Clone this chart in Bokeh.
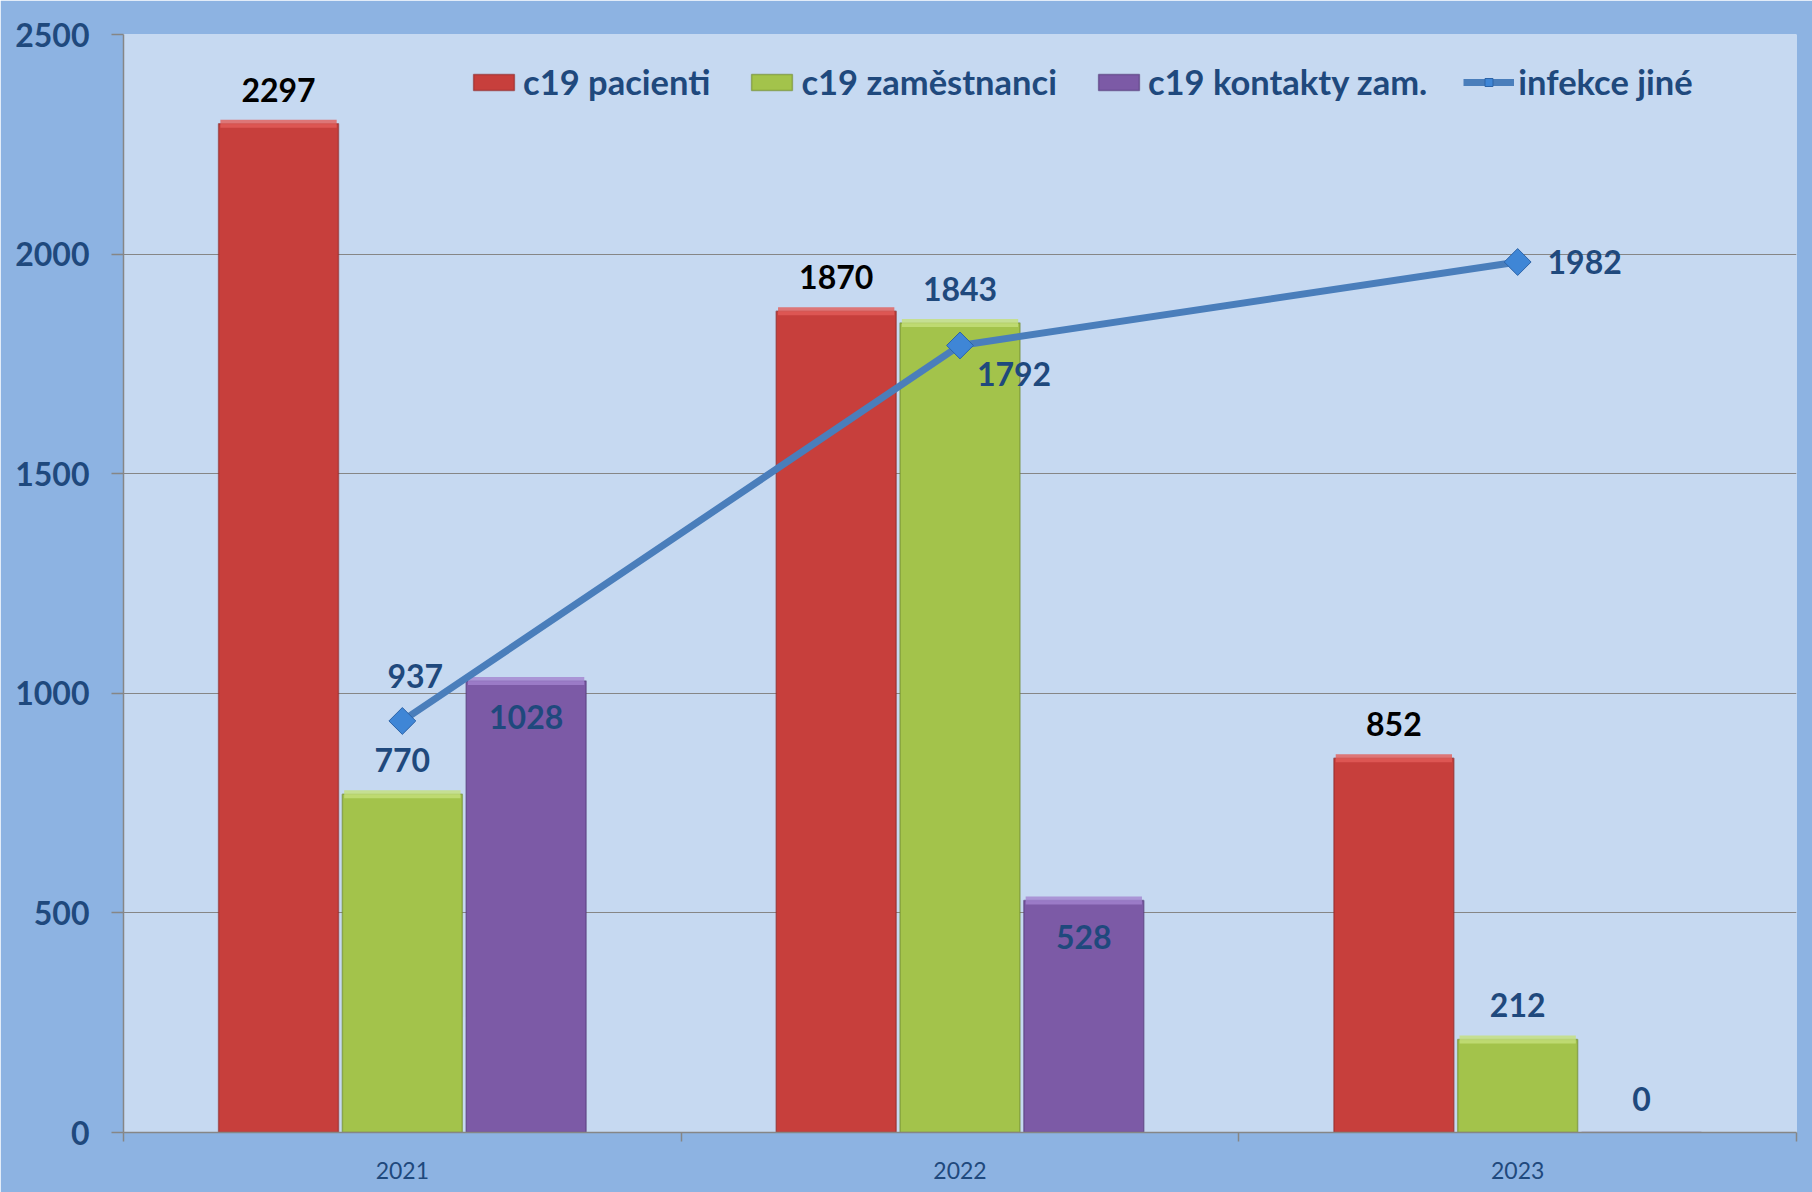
import numpy as np
from bokeh.plotting import figure
from bokeh.models import (Range1d, FixedTicker, Legend, LegendItem, ColumnDataSource)
from bokeh.core.properties import value
from bokeh.embed import file_html
from bokeh.resources import INLINE

# ---- data ----
years = ["2021", "2022", "2023"]
c19_pacienti = [2297, 1870, 852]
c19_zamestnanci = [770, 1843, 212]
c19_kontakty = [1028, 528, 0]
infekce_jine = [937, 1792, 1982]
y_ticks = [0, 500, 1000, 1500, 2000, 2500]
series_names = ["c19 pacienti", "c19 zaměstnanci", "c19 kontakty zam.", "infekce jiné"]

# ---- style ----
FONT = "Lato"
DARK = "#1f497d"
GRID = "#868686"

p = figure(width=1812, height=1192, output_backend="svg", toolbar_location=None,
           x_range=Range1d(-0.5, 2.5), y_range=Range1d(0, 2500),
           background_fill_color="#c6d9f1", border_fill_color="#8db3e2",
           min_border_left=123, min_border_right=16, min_border_top=34, min_border_bottom=60)
p.outline_line_color = None
p.xgrid.grid_line_color = None
p.ygrid.grid_line_color = GRID
p.ygrid.grid_line_width = 1.2

# y axis
p.yaxis.ticker = FixedTicker(ticks=y_ticks)
p.yaxis.axis_line_color = GRID
p.yaxis.axis_line_width = 1.5
p.yaxis.major_tick_line_color = GRID
p.yaxis.major_tick_line_width = 1.5
p.yaxis.major_tick_out = 12
p.yaxis.major_tick_in = 0
p.yaxis.minor_tick_line_color = None
p.yaxis.major_label_text_font = FONT
p.yaxis.major_label_text_font_style = "bold"
p.yaxis.major_label_text_font_size = "32px"
p.yaxis.major_label_text_color = DARK
p.yaxis.major_label_standoff = 22

# x axis: labels at centres, ticks at category boundaries
xs = np.arange(len(years), dtype=float)
p.xaxis.ticker = FixedTicker(ticks=list(xs), minor_ticks=list(np.arange(len(years) + 1) - 0.5))
p.xaxis.major_label_overrides = {i: y for i, y in enumerate(years)}
p.xaxis.axis_line_color = GRID
p.xaxis.axis_line_width = 1.5
p.xaxis.major_tick_line_color = None
p.xaxis.major_tick_out = 0
p.xaxis.major_tick_in = 0
p.xaxis.minor_tick_line_color = GRID
p.xaxis.minor_tick_line_width = 1.5
p.xaxis.minor_tick_out = 9
p.xaxis.minor_tick_in = 0
p.xaxis.major_label_text_font = FONT
p.xaxis.major_label_text_font_size = "23px"
p.xaxis.major_label_text_color = DARK
p.xaxis.major_label_standoff = 20

# bars
bw = 0.215
step = 0.222
bar_specs = [
    (c19_pacienti, -step, "#c73f3c", "#8e2a28", "#e25d59"),
    (c19_zamestnanci, 0.0, "#a3c34b", "#6f8a2c", "#c4e07a"),
    (c19_kontakty, step, "#7c5aa6", "#543a78", "#a283d0"),
]
bar_renderers = []
for vals, off, fill, edge, hi in bar_specs:
    bx = xs + off
    r = p.vbar(x=bx, top=vals, width=bw, bottom=0, fill_color=fill,
               line_color=edge, line_width=1.5, line_alpha=0.6)
    bar_renderers.append(r)
    # bevel highlight at the bar top
    nz = [i for i, v in enumerate(vals) if v > 0]
    p.rect(x=[bx[i] for i in nz], y=[vals[i] for i in nz], width=bw * 0.97, height=8,
           height_units="screen", fill_color=hi, line_color=None, fill_alpha=0.8)

# line series
line_r = p.line(xs, infekce_jine, line_color="#4a7ebb", line_width=7)
mark_r = p.scatter(xs, infekce_jine, marker="square", angle=np.pi / 4, size=19,
                   fill_color="#3f86d6", line_color="#2d64a8", line_width=1)

# value labels
def labels(x, y, txt, xo, yo, color):
    src = ColumnDataSource(dict(x=list(x), y=list(y), t=[str(v) for v in txt],
                                xo=list(xo), yo=list(yo)))
    p.text(x="x", y="y", text="t", x_offset="xo", y_offset="yo", source=src,
           text_font=value(FONT), text_font_style="bold", text_font_size="32px",
           text_color=color, text_align="center", text_baseline="middle")

n = len(years)
labels(xs - step, c19_pacienti, c19_pacienti, [0] * n, [-34] * n, "black")
labels(xs, c19_zamestnanci, c19_zamestnanci, [0] * n, [-34] * n, DARK)
labels(xs + step, c19_kontakty, c19_kontakty, [0] * n,
       [36 if v > 0 else -34 for v in c19_kontakty], DARK)
labels(xs, infekce_jine, infekce_jine, [13, 54, 67], [-45, 29, 0], DARK)

legend = Legend(items=[
    LegendItem(label=series_names[0], renderers=[bar_renderers[0]]),
    LegendItem(label=series_names[1], renderers=[bar_renderers[1]]),
    LegendItem(label=series_names[2], renderers=[bar_renderers[2]]),
    LegendItem(label=series_names[3], renderers=[line_r, mark_r]),
], orientation="horizontal", location=(345, 1030))
legend.label_text_font = FONT
legend.label_text_font_style = "bold"
legend.label_text_font_size = "34.5px"
legend.label_text_color = DARK
legend.glyph_width = 51
legend.glyph_height = 20
legend.label_standoff = 4
legend.spacing = 36
legend.padding = 0
legend.margin = 0
legend.background_fill_alpha = 0
legend.border_line_color = None
p.add_layout(legend, "center")

open("out.html", "w").write(file_html(p, INLINE))
